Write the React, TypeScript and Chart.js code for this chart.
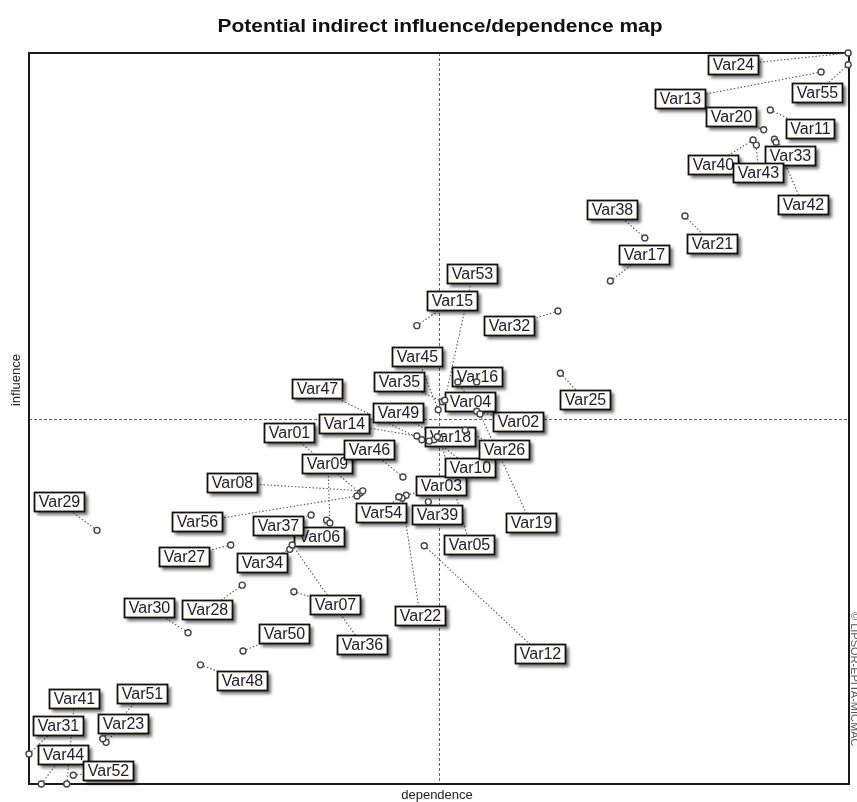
import React, { useEffect, useRef } from "react";
import { Chart, registerables } from "chart.js";

Chart.register(...registerables);

const titleText = "Potential indirect influence/dependence map";
const xAxisTitle = "dependence";
const yAxisTitle = "influence";
const copyrightText = "© LIPSOR-EPITA-MICMAC";

const varNames = [
  "Var01", "Var02", "Var03", "Var04", "Var05", "Var06", "Var07", "Var08", "Var09", "Var10",
  "Var11", "Var12", "Var13", "Var14", "Var15", "Var16", "Var17", "Var18", "Var19", "Var20",
  "Var21", "Var22", "Var23", "Var24", "Var25", "Var26", "Var27", "Var28", "Var29", "Var30",
  "Var31", "Var32", "Var33", "Var34", "Var35", "Var36", "Var37", "Var38", "Var39", "Var40",
  "Var41", "Var42", "Var43", "Var44", "Var45", "Var46", "Var47", "Var48", "Var49", "Var50",
  "Var51", "Var52", "Var53", "Var54", "Var55", "Var56",
];

// dependence (x) of each variable, 0..100
const dependence = [
  40.4, 54.6, 46.0, 52.3, 50.1, 36.3, 32.3, 40.7, 36.7, 49.4,
  90.4, 48.2, 96.6, 47.3, 47.3, 54.6, 70.9, 48.8, 55.0, 89.6,
  80.0, 45.5, 9.4, 99.9, 64.8, 53.2, 24.6, 26.0, 8.3, 19.4,
  0.0, 64.5, 90.9, 31.8, 50.4, 32.1, 34.4, 75.1, 48.7, 88.3,
  4.6, 91.1, 88.7, 1.5, 49.9, 45.6, 47.9, 20.9, 49.8, 26.1,
  9.0, 5.4, 50.7, 45.1, 99.9, 40.0,
];

// influence (y) of each variable, 0..100
const influence = [
  39.8, 51.0, 39.5, 55.0, 47.3, 36.1, 26.3, 40.1, 35.7, 47.1,
  92.2, 32.6, 97.4, 47.6, 62.7, 55.0, 68.8, 46.9, 50.6, 89.5,
  77.7, 39.1, 5.7, 100.0, 56.2, 48.4, 32.7, 27.2, 34.7, 20.7,
  4.1, 64.7, 88.2, 32.1, 52.3, 32.7, 36.8, 74.7, 38.6, 88.1,
  0.0, 87.8, 87.4, 0.0, 51.2, 42.0, 47.1, 16.3, 47.5, 18.2,
  6.2, 1.2, 52.5, 39.3, 98.4, 39.4,
];

// label box offsets from the point, in px (layout of the annotation boxes)
const labelDx = [
  -71, 42, 35, 13, 30, -7, 42, -130, -2, 36,
  40, 116, -141, -72, 36, 1, 34, 21, 51, -32,
  27, 18, 17, -115, 25, 39, -46, -35, -38, -39,
  29, -48, 16, -27, -43, 70, -33, -32, 9, -40,
  8, 27, 2, 22, -21, -33, -104, 42, -39, 41,
  40, 35, 28, -17, -31, -160,
];
const labelDy = [
  -60, 11, -9, 20, 107, 17, 13, -8, -59, 28,
  19, 108, 27, -12, -25, -5, -26, -4, 109, -13,
  28, 118, -18, 12, 27, 20, 12, 25, -28, -25,
  -28, 15, 17, 14, -20, 100, 11, -28, 13, 25,
  -85, 63, 28, -29, -53, -27, -51, 16, -24, -17,
  -45, -4, -126, 16, 28, 26,
];

const FONT = "'Liberation Sans', Arial, sans-serif";

const decorPlugin = {
  id: "micmacDecor",
  beforeDatasetsDraw(chart: any) {
    const { ctx, chartArea: a, scales } = chart;
    const xs = scales.x;
    const ys = scales.y;
    ctx.save();
    // crosshair
    ctx.strokeStyle = "#666";
    ctx.lineWidth = 1;
    ctx.setLineDash([3, 2]);
    const cx = Math.round(xs.getPixelForValue(50)) + 0.5;
    const cy = Math.round(ys.getPixelForValue(50)) + 0.5;
    ctx.beginPath();
    ctx.moveTo(cx, a.top);
    ctx.lineTo(cx, a.bottom);
    ctx.moveTo(a.left, cy);
    ctx.lineTo(a.right, cy);
    ctx.stroke();
    ctx.setLineDash([]);

    // frame
    ctx.strokeStyle = "#1a1a1a";
    ctx.lineWidth = 2;
    ctx.strokeRect(a.left, a.top, a.right - a.left, a.bottom - a.top);

    // leader lines
    ctx.strokeStyle = "#5c5c5c";
    ctx.lineWidth = 1.1;
    ctx.setLineDash([1.5, 2]);
    for (let i = 0; i < varNames.length; i++) {
      const px = xs.getPixelForValue(dependence[i]);
      const py = ys.getPixelForValue(influence[i]);
      ctx.beginPath();
      ctx.moveTo(px, py);
      ctx.lineTo(px + labelDx[i], py + labelDy[i]);
      ctx.stroke();
    }
    ctx.setLineDash([]);

    // label boxes
    ctx.font = `16px ${FONT}`;
    ctx.textAlign = "center";
    ctx.textBaseline = "middle";
    for (let i = 0; i < varNames.length; i++) {
      const px = xs.getPixelForValue(dependence[i]);
      const py = ys.getPixelForValue(influence[i]);
      const lx = px + labelDx[i];
      const ly = py + labelDy[i];
      const w = Math.round(ctx.measureText(varNames[i]).width + 9);
      const h = 20;
      const bx = Math.round(lx - w / 2);
      const by = Math.round(ly - h / 2);
      ctx.save();
      ctx.shadowColor = "rgba(0,0,0,0.55)";
      ctx.shadowOffsetX = 3;
      ctx.shadowOffsetY = 3;
      ctx.shadowBlur = 3;
      ctx.fillStyle = "#fdfdf6";
      ctx.fillRect(bx, by, w, h);
      ctx.restore();
      ctx.strokeStyle = "#111";
      ctx.lineWidth = 1.8;
      ctx.strokeRect(bx + 0.5, by + 0.5, w - 1, h - 1);
      ctx.fillStyle = "#1b1b33";
      ctx.fillText(varNames[i], bx + w / 2, by + h / 2 + 1);
    }
    ctx.restore();
  },
  afterDraw(chart: any) {
    const { ctx, chartArea: a } = chart;
    ctx.save();
    ctx.fillStyle = "#111";
    ctx.textAlign = "center";
    ctx.textBaseline = "middle";
    ctx.font = `bold 18px ${FONT}`;
    const tw = ctx.measureText(titleText).width;
    const sx = 445 / tw;
    ctx.save();
    ctx.translate(440, 27);
    ctx.scale(sx, 1);
    ctx.fillText(titleText, 0, 0);
    ctx.restore();
    ctx.font = `13px ${FONT}`;
    ctx.fillStyle = "#222";
    ctx.fillText(xAxisTitle, (a.left + a.right) / 2 - 2, a.bottom + 11);
    ctx.save();
    ctx.translate(16, 380);
    ctx.rotate(-Math.PI / 2);
    ctx.fillText(yAxisTitle, 0, 0);
    ctx.restore();
    ctx.save();
    ctx.translate(a.right + 5, 612);
    ctx.rotate(Math.PI / 2);
    ctx.textAlign = "left";
    ctx.font = `11px ${FONT}`;
    ctx.fillStyle = "#555";
    ctx.fillText(copyrightText, 0, 0);
    ctx.restore();
    ctx.restore();
  },
};

export default function App() {
  const ref = useRef<HTMLCanvasElement | null>(null);
  useEffect(() => {
    if (!ref.current) return;
    const points = dependence.map((x, i) => ({ x, y: influence[i] }));
    const chart = new Chart(ref.current, {
      type: "scatter",
      data: {
        datasets: [
          {
            label: "variables",
            data: points,
            pointRadius: 3,
            pointHoverRadius: 3,
            pointStyle: "circle",
            borderColor: "#444",
            backgroundColor: "#ffffff",
            borderWidth: 1.4,
            clip: false as any,
          },
        ],
      },
      options: {
        animation: false,
        responsive: false,
        devicePixelRatio: 1,
        layout: { padding: { left: 29, top: 53, right: 8, bottom: 18 } },
        plugins: {
          legend: { display: false },
          title: { display: false },
          tooltip: { enabled: false },
        },
        scales: {
          x: { type: "linear", min: 0, max: 100, display: false },
          y: { type: "linear", min: 0, max: 100, display: false },
        },
      },
      plugins: [decorPlugin],
    });
    return () => chart.destroy();
  }, []);
  return (
    <div style={{ position: "absolute", left: 0, top: 0, width: 857, height: 802, background: "#fff" }}>
      <canvas ref={ref} width={857} height={802} style={{ display: "block" }} />
    </div>
  );
}
